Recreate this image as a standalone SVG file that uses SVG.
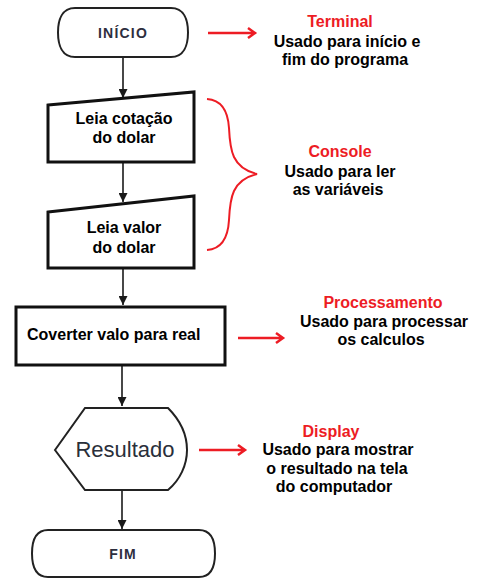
<svg xmlns="http://www.w3.org/2000/svg" width="481" height="586" viewBox="0 0 481 586">
<defs>
<marker id="ah" viewBox="0 0 10 10" refX="10" refY="5" markerWidth="9" markerHeight="9" markerUnits="userSpaceOnUse" orient="auto">
<path d="M0,0 L10,5 L0,10 Z" fill="#1a1a1a"/>
</marker>
<style>
.shape{fill:#fff;stroke:#111;}
.thick{stroke-width:3;}
.thin{stroke-width:2;stroke:#222;}
.conn{stroke:#1a1a1a;stroke-width:1.6;fill:none;marker-end:url(#ah);}
.red{stroke:#ed1c24;stroke-width:2.5;fill:none;}
.lbl{font-family:"Liberation Sans",Arial,sans-serif;font-weight:bold;font-size:16px;fill:#000;text-anchor:middle;}
.title{font-family:"Liberation Sans",Arial,sans-serif;font-weight:bold;font-size:16px;fill:#ed1c24;text-anchor:middle;}
.term{font-family:"Liberation Sans",Arial,sans-serif;font-weight:bold;font-size:14px;fill:#2e2e3e;text-anchor:middle;letter-spacing:1.2px;}
</style>
</defs>
<rect width="481" height="586" fill="#fff"/>

<g id="connectors">
<line class="conn" x1="123" y1="58" x2="123" y2="98"/>
<line class="conn" x1="123" y1="163" x2="123" y2="202"/>
<line class="conn" x1="123" y1="269" x2="123" y2="305"/>
<line class="conn" x1="122" y1="366" x2="122" y2="406"/>
<line class="conn" x1="122" y1="491" x2="122" y2="529"/>
</g>

<g id="inicio">
<path class="shape thin" d="M75,8 H171 C184,8 188,20 188,32.5 C188,45 184,57 171,57 H75 C62,57 58,45 58,32.5 C58,20 62,8 75,8 Z"/>
<text class="term" x="123" y="38">INÍCIO</text>
</g>

<g id="leia-cotacao">
<path class="shape thick" d="M48,105 L194,92 L194,162 L48,162 Z"/>
<text class="lbl" x="124" y="124">Leia cotação</text>
<text class="lbl" x="124" y="143">do dolar</text>
</g>

<g id="leia-valor">
<path class="shape thick" d="M48,212 L194,196 L194,268 L48,268 Z"/>
<text class="lbl" x="124" y="233">Leia valor</text>
<text class="lbl" x="124" y="253">do dolar</text>
</g>

<g id="processamento">
<rect class="shape thick" x="16" y="307" width="209" height="58"/>
<text class="lbl" x="27" y="340" style="text-anchor:start">Coverter valo para real</text>
</g>

<g id="resultado">
<path class="shape thin" d="M55,450 L85,408 L168,408 C180,420 187,435 187,450 C187,465 180,480 168,490 L85,490 Z"/>
<text x="125" y="457" style="font-family:'Liberation Sans',Arial,sans-serif;font-size:22px;fill:#2a2f3a;text-anchor:middle">Resultado</text>
</g>

<g id="fim">
<path class="shape thin" d="M48,530 H199 C212,530 215,542 215,553.5 C215,565 212,577 199,577 H48 C35,577 32,565 32,553.5 C32,542 35,530 48,530 Z"/>
<text class="term" x="123" y="559">FIM</text>
</g>

<g id="annot-terminal">
<path class="red" d="M208,33 H255 M248,28 L255,33 L248,38"/>
<text class="title" x="340" y="27">Terminal</text>
<text class="lbl" x="347" y="47">Usado para início e</text>
<text class="lbl" x="345" y="65">fim do programa</text>
</g>

<g id="annot-console">
<path class="red" style="stroke-width:2" d="M207,99 C222,100 228,112 229,128 C230,150 232,168 257,174 C232,180 230,198 229,220 C228,238 222,249 207,250"/>
<text class="title" x="340" y="157">Console</text>
<text class="lbl" x="340" y="177">Usado para ler</text>
<text class="lbl" x="338" y="195">as variáveis</text>
</g>

<g id="annot-processamento">
<path class="red" d="M238,338 H283 M276,333 L283,338 L276,343"/>
<text class="title" x="383" y="308">Processamento</text>
<text class="lbl" x="384" y="327">Usado para processar</text>
<text class="lbl" x="381" y="345">os calculos</text>
</g>

<g id="annot-display">
<path class="red" d="M199,450 H245 M238,445 L245,450 L238,455"/>
<text class="title" x="331" y="437">Display</text>
<text class="lbl" x="338" y="455">Usado para mostrar</text>
<text class="lbl" x="337" y="474">o resultado na tela</text>
<text class="lbl" x="334" y="492">do computador</text>
</g>
</svg>
